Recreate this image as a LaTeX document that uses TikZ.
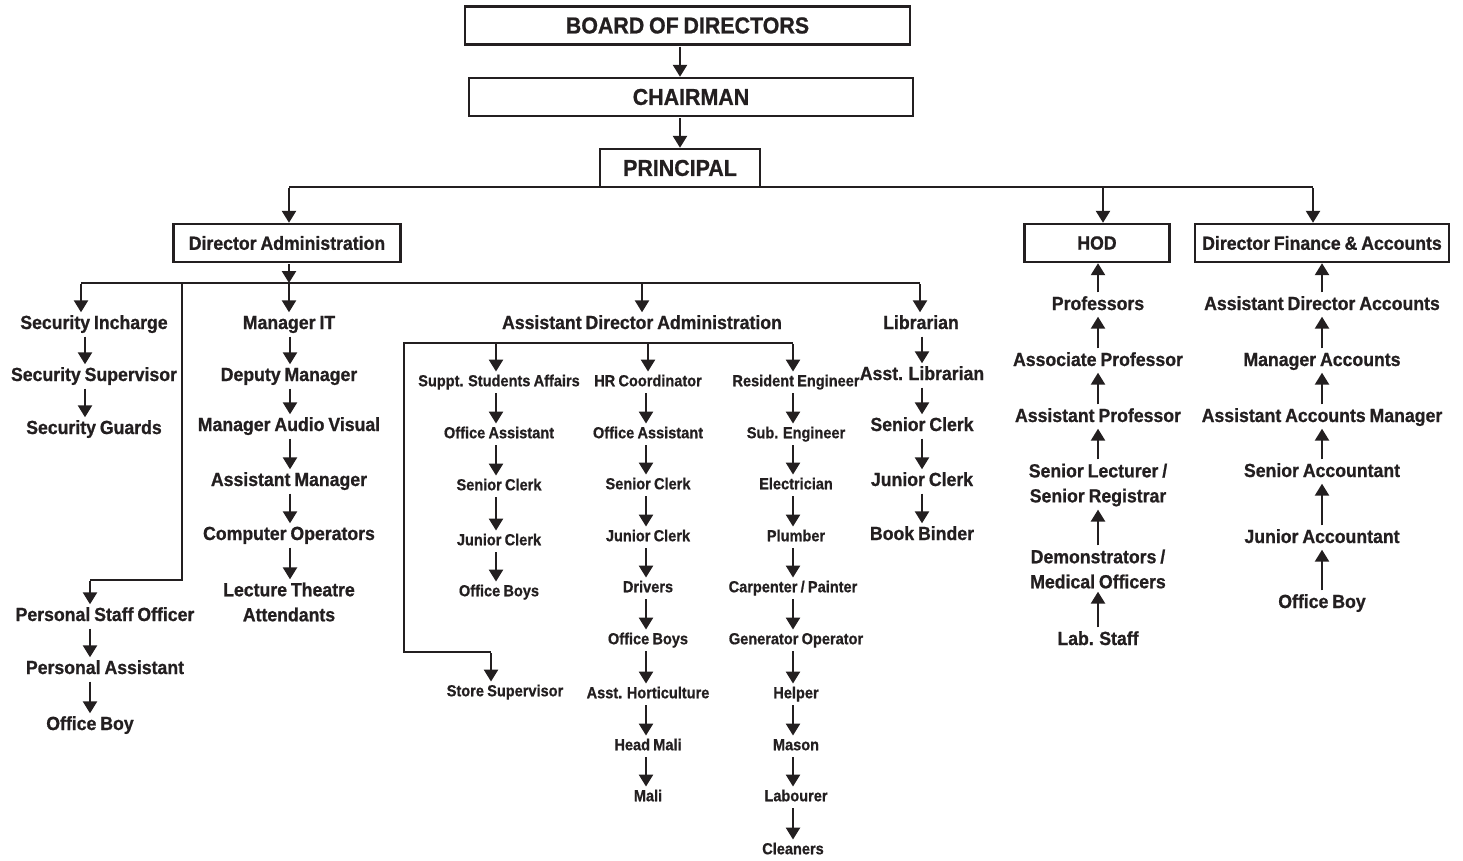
\documentclass[tikz,border=0pt]{standalone}
\usepackage{fontspec}
\usetikzlibrary{arrows.meta}
\newfontfamily\cf{Liberation Sans}[FakeStretch=0.93,FakeBold=0.9,WordSpace=0.8]
\newfontfamily\cfs{Liberation Sans}[FakeStretch=0.91,FakeBold=0.7,WordSpace=0.8]
\newcommand\lab{\cf\bfseries\fontsize{19}{25}\selectfont}
\newcommand\slab{\cfs\bfseries\fontsize{16}{20}\selectfont}
\newcommand\blab{\cf\bfseries\fontsize{23}{28}\selectfont}
\definecolor{ink}{RGB}{35,31,32}
\begin{document}
\begin{tikzpicture}[x=1pt,y=-1pt,
  every node/.style={text=ink},
  lbl/.style={font=\lab, inner sep=2.5pt, text height=14pt, text depth=4pt},
  lbltwo/.style={font=\lab, inner sep=3pt, align=center},
  sml/.style={font=\slab, inner sep=2.5pt, text height=12pt, text depth=3.5pt},
  boxn/.style={draw=ink, line width=2.4pt, inner sep=0pt, minimum height=38pt},
  ln/.style={draw=ink, line width=2.5pt, line join=miter},
  arr/.style={ln, -{Triangle[width=14pt,length=12pt]}, shorten <=1pt}
]
\useasboundingbox (0,0) rectangle (1463,861);

% ---------- boxes ----------
\node[boxn, minimum width=445pt, font=\blab] (BOD) at (687.5,25.5) {BOARD OF DIRECTORS};
\node[boxn, minimum width=444pt, font=\blab] (CH) at (691,97) {CHAIRMAN};
\node[boxn, minimum width=160pt, font=\blab] (PR) at (680,168) {PRINCIPAL};
\node[boxn, minimum width=227pt, font=\lab] (DA) at (287,243) {Director Administration};
\node[boxn, minimum width=145pt, font=\lab] (HOD) at (1097,243) {HOD};
\node[boxn, minimum width=254pt, font=\lab] (DFA) at (1322,243) {Director Finance \& Accounts};

% ---------- coordinates ----------
\coordinate (cTop) at (680,0);
\coordinate (pL) at (289,187);
\coordinate (pH) at (1103,187);
\coordinate (pF) at (1313,187);
\coordinate (dbus) at (289,283);
\coordinate (d1) at (81,283);
\coordinate (d2) at (182,283);
\coordinate (d2b) at (182,580);
\coordinate (d2c) at (90,580);
\coordinate (d4) at (642,283);
\coordinate (d5) at (920,283);
\coordinate (abL) at (404,343);
\coordinate (abR) at (793,343);
\coordinate (ab1) at (496,343);
\coordinate (ab2) at (648,343);
\coordinate (abD) at (404,652);
\coordinate (abE) at (491,652);
\coordinate (cSec) at (85,0);
\coordinate (cPer) at (90,0);
\coordinate (cIT) at (290,0);
\coordinate (cS1) at (496,0);
\coordinate (cS2) at (646,0);
\coordinate (cS3) at (793,0);
\coordinate (cLib) at (922,0);
\coordinate (cH) at (1098,0);
\coordinate (cF) at (1322,0);

% ---------- labels ----------
\node[lbl] (SI) at (94,324) {Security Incharge};
\node[lbl] (SS) at (94,376) {Security Supervisor};
\node[lbl] (SG) at (94,429) {Security Guards};
\node[lbl] (PSO) at (105,616) {Personal Staff Officer};
\node[lbl] (PA) at (105,669) {Personal Assistant};
\node[lbl] (OB1) at (90,725) {Office Boy};

\node[lbl] (MIT) at (289,324) {Manager IT};
\node[lbl] (DM) at (289,376) {Deputy Manager};
\node[lbl] (MAV) at (289,426) {Manager Audio Visual};
\node[lbl] (AM) at (289,481) {Assistant Manager};
\node[lbl] (CO) at (289,535) {Computer Operators};
\node[lbltwo] (LTA) at (289,602) {Lecture Theatre\\Attendants};

\node[lbl] (ADA) at (642,324) {Assistant Director Administration};

\node[sml] (SSA) at (499,382) {Suppt. Students Affairs};
\node[sml] (OA1) at (499,434) {Office Assistant};
\node[sml] (SC1) at (499,486) {Senior Clerk};
\node[sml] (JC1) at (499,541) {Junior Clerk};
\node[sml] (OBs1) at (499,592) {Office Boys};
\node[sml] (SSup) at (505,692) {Store Supervisor};

\node[sml] (HR) at (648,382) {HR Coordinator};
\node[sml] (OA2) at (648,434) {Office Assistant};
\node[sml] (SC2) at (648,485) {Senior Clerk};
\node[sml] (JC2) at (648,537) {Junior Clerk};
\node[sml] (DR) at (648,588) {Drivers};
\node[sml] (OBs2) at (648,640) {Office Boys};
\node[sml] (AH) at (648,694) {Asst. Horticulture};
\node[sml] (HM) at (648,746) {Head Mali};
\node[sml] (MALI) at (648,797) {Mali};

\node[sml] (RE) at (796,382) {Resident Engineer};
\node[sml] (SE) at (796,434) {Sub. Engineer};
\node[sml] (EL) at (796,485) {Electrician};
\node[sml] (PL) at (796,537) {Plumber};
\node[sml] (CP) at (793,588) {Carpenter / Painter};
\node[sml] (GO) at (796,640) {Generator Operator};
\node[sml] (HE) at (796,694) {Helper};
\node[sml] (MS) at (796,746) {Mason};
\node[sml] (LB) at (796,797) {Labourer};
\node[sml] (CL) at (793,850) {Cleaners};

\node[lbl] (LIB) at (921,324) {Librarian};
\node[lbl] (AL) at (922,375) {Asst. Librarian};
\node[lbl] (LSC) at (922,426) {Senior Clerk};
\node[lbl] (LJC) at (922,481) {Junior Clerk};
\node[lbl] (BB) at (922,535) {Book Binder};

\node[lbl] (PROF) at (1098,305) {Professors};
\node[lbl] (ASSOC) at (1098,361) {Associate Professor};
\node[lbl] (ASSTP) at (1098,417) {Assistant Professor};
\node[lbltwo] (SLR) at (1098,485) {Senior Lecturer /\\Senior Registrar};
\node[lbltwo] (DMO) at (1098,569) {Demonstrators /\\Medical Officers};
\node[lbl] (LAB) at (1098,640) {Lab. Staff};

\node[lbl] (ADAc) at (1322,305) {Assistant Director Accounts};
\node[lbl] (MA) at (1322,361) {Manager Accounts};
\node[lbl] (AAM) at (1322,417) {Assistant Accounts Manager};
\node[lbl] (SA) at (1322,472) {Senior Accountant};
\node[lbl] (JA) at (1322,538) {Junior Accountant};
\node[lbl] (OB2) at (1322,603) {Office Boy};

% ---------- top connectors ----------
\draw[arr] (BOD.south -| cTop) -- (CH.north -| cTop);
\draw[arr] (CH.south -| cTop) -- (PR.north -| cTop);
\draw[ln] (pL) -- (pF);
\draw[arr] (pL) -- (DA.north -| pL);
\draw[arr] (pH) -- (HOD.north -| pH);
\draw[arr] (pF) -- (DFA.north -| pF);

% ---------- director administration ----------
\draw[arr] (DA.south -| dbus) -- (dbus);
\draw[ln] (d1) -- (d5);
\draw[arr] (d1) -- (SI.north -| d1);
\draw[arr] (dbus) -- (MIT.north -| dbus);
\draw[arr] (d4) -- (ADA.north -| d4);
\draw[arr] (d5) -- (LIB.north -| d5);
\draw[ln] (d2) -- (d2b) -- (d2c);
\draw[arr] (d2c) -- (PSO.north -| d2c);

\draw[arr] (SI.south -| cSec) -- (SS.north -| cSec);
\draw[arr] (SS.south -| cSec) -- (SG.north -| cSec);
\draw[arr] (PSO.south -| cPer) -- (PA.north -| cPer);
\draw[arr] (PA.south -| cPer) -- (OB1.north -| cPer);

\draw[arr] (MIT.south -| cIT) -- (DM.north -| cIT);
\draw[arr] (DM.south -| cIT) -- (MAV.north -| cIT);
\draw[arr] (MAV.south -| cIT) -- (AM.north -| cIT);
\draw[arr] (AM.south -| cIT) -- (CO.north -| cIT);
\draw[arr] (CO.south -| cIT) -- (LTA.north -| cIT);

% ---------- assistant director administration ----------
\draw[ln] (abR) -- (abL) -- (abD) -- (abE);
\draw[arr] (abR) -- (RE.north -| abR);
\draw[arr] (ab1) -- (SSA.north -| ab1);
\draw[arr] (ab2) -- (HR.north -| ab2);
\draw[arr] (abE) -- (SSup.north -| abE);

\draw[arr] (SSA.south -| cS1) -- (OA1.north -| cS1);
\draw[arr] (OA1.south -| cS1) -- (SC1.north -| cS1);
\draw[arr] (SC1.south -| cS1) -- (JC1.north -| cS1);
\draw[arr] (JC1.south -| cS1) -- (OBs1.north -| cS1);

\draw[arr] (HR.south -| cS2) -- (OA2.north -| cS2);
\draw[arr] (OA2.south -| cS2) -- (SC2.north -| cS2);
\draw[arr] (SC2.south -| cS2) -- (JC2.north -| cS2);
\draw[arr] (JC2.south -| cS2) -- (DR.north -| cS2);
\draw[arr] (DR.south -| cS2) -- (OBs2.north -| cS2);
\draw[arr] (OBs2.south -| cS2) -- (AH.north -| cS2);
\draw[arr] (AH.south -| cS2) -- (HM.north -| cS2);
\draw[arr] (HM.south -| cS2) -- (MALI.north -| cS2);

\draw[arr] (RE.south -| cS3) -- (SE.north -| cS3);
\draw[arr] (SE.south -| cS3) -- (EL.north -| cS3);
\draw[arr] (EL.south -| cS3) -- (PL.north -| cS3);
\draw[arr] (PL.south -| cS3) -- (CP.north -| cS3);
\draw[arr] (CP.south -| cS3) -- (GO.north -| cS3);
\draw[arr] (GO.south -| cS3) -- (HE.north -| cS3);
\draw[arr] (HE.south -| cS3) -- (MS.north -| cS3);
\draw[arr] (MS.south -| cS3) -- (LB.north -| cS3);
\draw[arr] (LB.south -| cS3) -- (CL.north -| cS3);

% ---------- librarian ----------
\draw[arr] (LIB.south -| cLib) -- (AL.north -| cLib);
\draw[arr] (AL.south -| cLib) -- (LSC.north -| cLib);
\draw[arr] (LSC.south -| cLib) -- (LJC.north -| cLib);
\draw[arr] (LJC.south -| cLib) -- (BB.north -| cLib);

% ---------- HOD (upward) ----------
\draw[arr] (PROF.north -| cH) -- (HOD.south -| cH);
\draw[arr] (ASSOC.north -| cH) -- (PROF.south -| cH);
\draw[arr] (ASSTP.north -| cH) -- (ASSOC.south -| cH);
\draw[arr] (SLR.north -| cH) -- (ASSTP.south -| cH);
\draw[arr] (DMO.north -| cH) -- (SLR.south -| cH);
\draw[arr] (LAB.north -| cH) -- (DMO.south -| cH);

% ---------- finance (upward) ----------
\draw[arr] (ADAc.north -| cF) -- (DFA.south -| cF);
\draw[arr] (MA.north -| cF) -- (ADAc.south -| cF);
\draw[arr] (AAM.north -| cF) -- (MA.south -| cF);
\draw[arr] (SA.north -| cF) -- (AAM.south -| cF);
\draw[arr] (JA.north -| cF) -- (SA.south -| cF);
\draw[arr] (OB2.north -| cF) -- (JA.south -| cF);
\end{tikzpicture}
\end{document}
